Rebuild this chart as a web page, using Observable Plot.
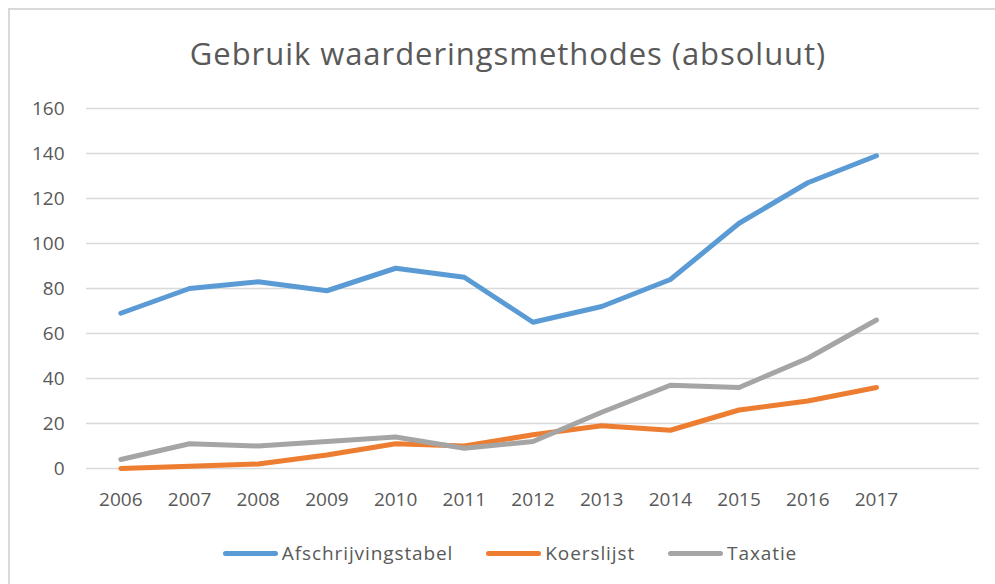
<!DOCTYPE html>
<html>
<head>
<meta charset="utf-8">
<script src="https://cdn.jsdelivr.net/npm/d3@7"></script>
<script src="https://cdn.jsdelivr.net/npm/@observablehq/plot@0.6"></script>
<style>
  html, body { margin: 0; padding: 0; background: #fff; overflow: hidden; }
  body { width: 995px; height: 584px; position: relative; font-family: "Open Sans", sans-serif; color: #595959; }
  #frame { position: absolute; left: 8px; top: 8px; width: 1010px; height: 620px; border: 2px solid #d9d9d9; box-sizing: border-box; }
  #title { position: absolute; left: 8px; width: 1000px; top: 31px; text-align: center; font-size: 31px; font-weight: 400; letter-spacing: 0.95px; line-height: 44px; color: #595959; white-space: nowrap; }
  #chart { position: absolute; left: 0; top: 92px; }
  #legend { position: absolute; left: 9px; width: 1002px; top: 538px; display: flex; justify-content: center; gap: 33px; font-size: 19px; letter-spacing: 0.9px; line-height: 30px; }
  .item { display: flex; align-items: center; gap: 4px; }
  .sw { width: 55px; height: 5px; border-radius: 3px; }
</style>
</head>
<body>
<div id="frame"></div>
<div id="title">Gebruik waarderingsmethodes (absoluut)</div>
<div id="chart"></div>
<div id="legend"></div>
<script>
const years = [2006, 2007, 2008, 2009, 2010, 2011, 2012, 2013, 2014, 2015, 2016, 2017];
const afschrijvingstabel = [69, 80, 83, 79, 89, 85, 65, 72, 84, 109, 127, 139];
const koerslijst = [0, 1, 2, 6, 11, 10, 15, 19, 17, 26, 30, 36];
const taxatie = [4, 11, 10, 12, 14, 9, 12, 25, 37, 36, 49, 66];
const seriesNames = ["Afschrijvingstabel", "Koerslijst", "Taxatie"];
const seriesColors = ["#5B9BD5", "#ED7D31", "#A5A5A5"];
const yTicks = [0, 20, 40, 60, 80, 100, 120, 140, 160];

const seriesValues = [afschrijvingstabel, koerslijst, taxatie];
const data = [];
seriesNames.forEach((name, i) => {
  years.forEach((yr, j) => data.push({series: name, year: yr, value: seriesValues[i][j]}));
});

const plot = Plot.plot({
  width: 995,
  height: 430,
  marginLeft: 86,
  marginRight: 16,
  marginTop: 16,
  marginBottom: 54,
  style: {fontFamily: "Open Sans", fontSize: "19px", color: "#595959", background: "transparent"},
  x: {domain: [2005.5, 2018.5], ticks: years, tickFormat: d => String(d), tickSize: 0, tickPadding: 24, label: null},
  y: {domain: [0, 160], ticks: yTicks, tickSize: 0, tickPadding: 22, label: null},
  color: {domain: seriesNames, range: seriesColors},
  marks: [
    Plot.gridY(yTicks, {stroke: "#d9d9d9", strokeOpacity: 1, strokeWidth: 1.5}),
    Plot.axisX({ticks: years, tickFormat: d => String(d), tickSize: 0, tickPadding: 24, label: null}),
    Plot.axisY({ticks: yTicks, tickSize: 0, tickPadding: 22, label: null}),
    Plot.line(data, {x: "year", y: "value", z: "series", stroke: "series", strokeWidth: 5, strokeLinecap: "round", strokeLinejoin: "round"})
  ]
});
document.getElementById("chart").appendChild(plot);

const legend = document.getElementById("legend");
seriesNames.forEach((name, i) => {
  const item = document.createElement("div");
  item.className = "item";
  const sw = document.createElement("div");
  sw.className = "sw";
  sw.style.background = seriesColors[i];
  const label = document.createElement("span");
  label.textContent = name;
  item.appendChild(sw);
  item.appendChild(label);
  legend.appendChild(item);
});
</script>
</body>
</html>
